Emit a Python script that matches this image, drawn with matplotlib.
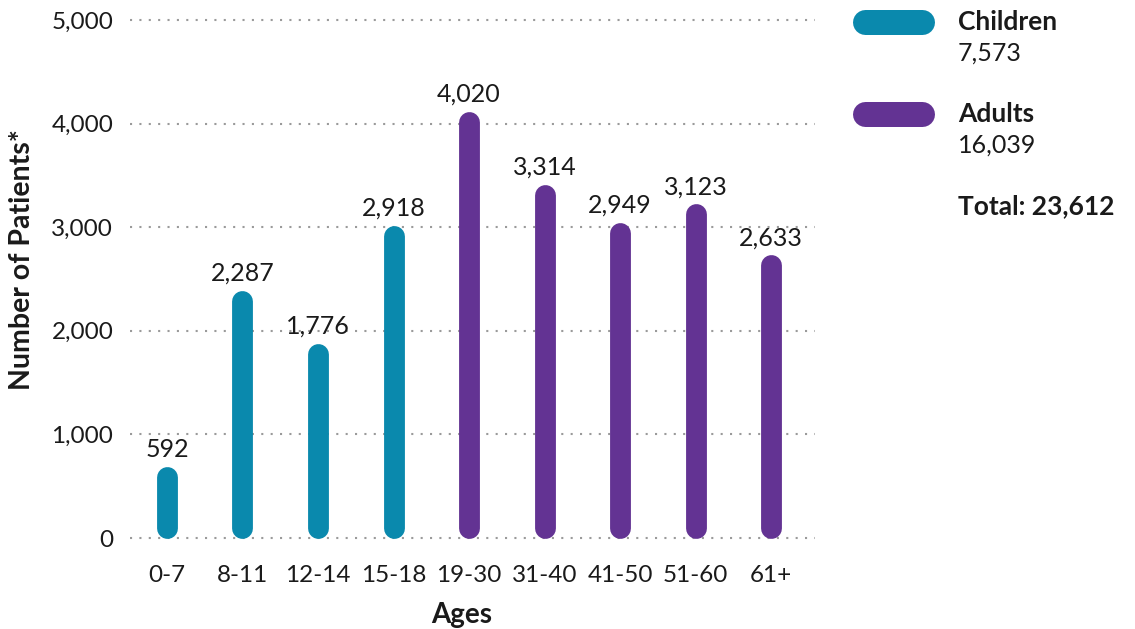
import matplotlib.pyplot as plt
from matplotlib.lines import Line2D

plt.rcParams['font.family'] = ['Lato', 'DejaVu Sans']

ages = ['0-7', '8-11', '12-14', '15-18', '19-30', '31-40', '41-50', '51-60', '61+']
patients = [592, 2287, 1776, 2918, 4020, 3314, 2949, 3123, 2633]
groups = ['Children'] * 4 + ['Adults'] * 5

group_names = ['Children', 'Adults']
group_totals = [7573, 16039]
total = 23612

colors = {'Children': '#0a89ad', 'Adults': '#633393'}
text_color = '#1a1a1a'

fig = plt.figure(figsize=(11.35, 6.29), dpi=100)
ax = fig.add_axes([0.1145, 0.1281, 0.6035, 0.8566])

ax.set_xlim(-0.49, 8.58)
ax.set_ylim(-100, 5100)

# half the bar width in data units, so the rounded bottom sits on zero
cap = 101
for i, (v, g) in enumerate(zip(patients, groups)):
    ax.plot([i, i], [cap, v], color=colors[g], lw=15,
            solid_capstyle='round', zorder=3)
    ax.annotate(f'{v:,}', (i, v + cap), xytext=(0, 4), textcoords='offset points',
                ha='center', va='bottom', fontsize=18, color=text_color, zorder=4)

ax.set_yticks(range(0, 5001, 1000))
ax.set_yticklabels([f'{t:,}' for t in range(0, 5001, 1000)])
ax.set_xticks(range(len(ages)))
ax.set_xticklabels(ages)
ax.tick_params(axis='y', length=0, pad=12, labelsize=17.5, labelcolor=text_color)
ax.tick_params(axis='x', length=0, pad=12, labelsize=17.5, labelcolor=text_color)

ax.grid(axis='y', color='#9a9a9a', lw=1.5, linestyle=(0, (1, 3.5)), zorder=1)
ax.set_axisbelow(True)
for s in ax.spines.values():
    s.set_visible(False)

fig.text(22 / 1135, 1 - 260 / 629, 'Number of Patients*', rotation=90,
         ha='center', va='center', fontsize=20.5, fontweight='bold', color=text_color)
fig.text(462 / 1135, 1 - 615 / 629, 'Ages', ha='center', va='center',
         fontsize=20, fontweight='bold', color=text_color)

# legend pills with group totals
W, H = 1135, 629
for k, (name, tot) in enumerate(zip(group_names, group_totals)):
    y = 22 + k * 92
    fig.add_artist(Line2D([865 / W, 922 / W], [1 - y / H, 1 - y / H],
                          color=colors[name], lw=18, solid_capstyle='round',
                          transform=fig.transFigure))
    fig.text(958 / W, 1 - y / H, name, ha='left', va='center',
             fontsize=19, fontweight='bold', color=text_color)
    fig.text(958 / W, 1 - (y + 31) / H, f'{tot:,}', ha='left', va='center',
             fontsize=18, color=text_color)

fig.text(958 / W, 1 - 206 / H, f'Total: {total:,}', ha='left', va='center',
         fontsize=19, fontweight='bold', color=text_color)

fig.savefig('out.png', dpi=100)
